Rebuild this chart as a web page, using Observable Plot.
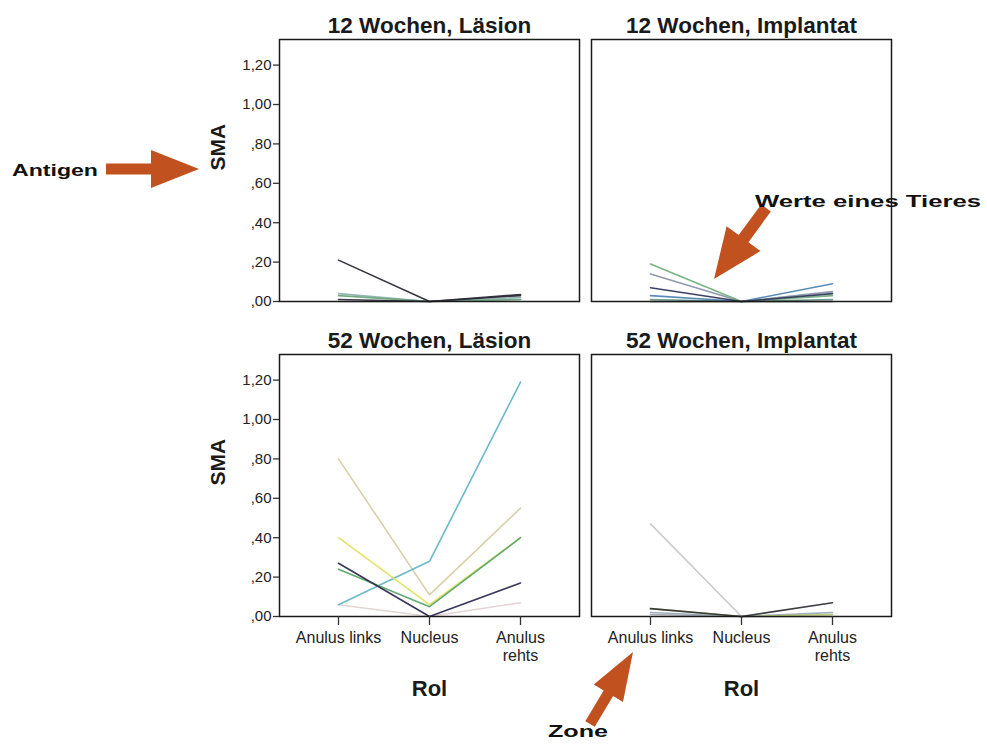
<!DOCTYPE html>
<html>
<head>
<meta charset="utf-8">
<script src="https://cdn.jsdelivr.net/npm/d3@7"></script>
<script src="https://cdn.jsdelivr.net/npm/@observablehq/plot@0.6"></script>
<style>
  html, body { margin: 0; padding: 0; background: #fff; }
  #wrap { position: relative; width: 987px; height: 744px; }
  #wrap svg { position: absolute; left: 0; top: 0; }
</style>
</head>
<body>
<div id="wrap"></div>
<script>
// ---- data ----
const zones = ["Anulus links", "Nucleus", "Anulus rehts"];
const weeks = ["12 Wochen", "52 Wochen"];
const groups = ["Läsion", "Implantat"];
const yTicks = [0, 0.2, 0.4, 0.6, 0.8, 1.0, 1.2];

// one row per animal: SMA at [Anulus links, Nucleus, Anulus rehts]
const w12Laesion = [
  [0.00, 0.00, 0.01],
  [0.04, 0.00, 0.02],
  [0.03, 0.00, 0.01],
  [0.01, 0.00, 0.03],
  [0.21, 0.00, 0.035]
];
const w12Implantat = [
  [0.01, 0.00, 0.01],
  [0.03, 0.00, 0.09],
  [0.14, 0.00, 0.05],
  [0.19, 0.00, 0.03],
  [0.07, 0.00, 0.04],
  [0.00, 0.00, 0.00]
];
const w52Laesion = [
  [0.06, 0.00, 0.07],
  [0.80, 0.11, 0.55],
  [0.06, 0.28, 1.19],
  [0.40, 0.06, 0.40],
  [0.24, 0.05, 0.40],
  [0.27, 0.00, 0.17]
];
const w52Implantat = [
  [0.01, 0.00, 0.00],
  [0.47, 0.00, 0.01],
  [0.02, 0.00, 0.02],
  [0.04, 0.00, 0.01],
  [0.04, 0.00, 0.07]
];

// ---- styles ----
const col12L = ["#a8a8a8", "#8fb3b0", "#6aa67a", "#333344", "#2a2a36"];
const col12I = ["#6a9c92", "#4f86b4", "#8a92aa", "#74b07c", "#30385e", "#333333"];
const col52L = ["#e4d2d2", "#d6cea4", "#62b6c6", "#e2e25e", "#5aa46a", "#2e2c52"];
const col52I = ["#a8a8b0", "#c8c8c8", "#9aaab8", "#b8d070", "#333338"];

const panelDefs = [
  {week: weeks[0], group: groups[0], vals: w12Laesion, cols: col12L},
  {week: weeks[0], group: groups[1], vals: w12Implantat, cols: col12I},
  {week: weeks[1], group: groups[0], vals: w52Laesion, cols: col52L},
  {week: weeks[1], group: groups[1], vals: w52Implantat, cols: col52I}
];

const rows = [];
panelDefs.forEach((p, pi) => {
  p.vals.forEach((animal, ai) => {
    animal.forEach((v, zi) => {
      rows.push({week: p.week, group: p.group, id: pi + "-" + ai, zone: zones[zi], value: v, color: p.cols[ai]});
    });
  });
});

const titles = panelDefs.map(p => ({week: p.week, group: p.group, title: p.week + ", " + p.group}));
const leftPanels = weeks.map(w => ({week: w, group: groups[0], label: "SMA"}));
const bottomPanels = groups.map(g => ({week: weeks[1], group: g, label: "Rol"}));

const yFmt = d => {
  const s = d3.format(".2f")(d);
  return d < 1 ? "," + s.slice(2) : s.replace(".", ",");
};

const chart = Plot.plot({
  width: 987,
  height: 744,
  marginLeft: 278,
  marginRight: 95,
  marginTop: 38,
  marginBottom: 127,
  style: {fontFamily: "'Liberation Sans', Arial, sans-serif", fontSize: "15px", color: "#222", background: "transparent"},
  fx: {domain: groups, paddingInner: 0.0383, paddingOuter: 0, axis: null},
  fy: {domain: weeks, paddingInner: 0.1677, paddingOuter: 0, axis: null},
  x: {domain: zones, type: "point", padding: 0.64},
  y: {domain: [0, 1.33]},
  color: {type: "identity"},
  marks: [
    Plot.line(rows, {x: "zone", y: "value", z: "id", stroke: "color", fx: "group", fy: "week", strokeWidth: 1.6, strokeOpacity: 0.95}),
    Plot.frame({stroke: "#1a1a1a", strokeWidth: 1.5}),
    Plot.axisY({ticks: yTicks, tickFormat: yFmt, tickSize: 6, tickPadding: 2, fontSize: 15, label: null, stroke: "#333", fill: "#222", strokeWidth: 1.3}),
    Plot.axisX({tickSize: 9, tickPadding: 5, fontSize: 16, label: null, lineHeight: 1.1, stroke: "#333", fill: "#222", strokeWidth: 1.3,
      tickFormat: d => d === "Anulus rehts" ? "Anulus\nrehts" : d}),
    Plot.text(titles, {fx: "group", fy: "week", text: "title", frameAnchor: "top", lineAnchor: "bottom", dy: -7, fontSize: 22.5, fontWeight: "bold", fill: "#1a1a1a"}),
    Plot.text(leftPanels, {fx: "group", fy: "week", text: "label", frameAnchor: "left", lineAnchor: "middle", dx: -61, rotate: -90, fontSize: 21, fontWeight: "bold", fill: "#1a1a1a"}),
    Plot.text(bottomPanels, {fx: "group", fy: "week", text: "label", frameAnchor: "bottom", lineAnchor: "middle", dy: 72, fontSize: 22, fontWeight: "bold", fill: "#1a1a1a"})
  ]
});

const wrap = document.getElementById("wrap");
wrap.appendChild(chart);

// ---- annotations (arrows + notes) drawn as an overlay ----
const arrowColor = "#c1511f";
const notes = [
  {text: "Antigen", x: 12, y: 176, len: 86, size: 17, tail: [106, 169], tip: [199, 169], shaft: 11, headW: 38, headL: 48},
  {text: "Werte eines Tieres", x: 755, y: 207, len: 226, size: 17, tail: [766, 208], tip: [714, 279], shaft: 12, headW: 42, headL: 50},
  {text: "Zone", x: 548, y: 737, len: 60, size: 16, tail: [590, 724], tip: [633, 652], shaft: 11, headW: 34, headL: 48}
];

function arrowPoints(n) {
  const [x0, y0] = n.tail, [x1, y1] = n.tip;
  const L = Math.hypot(x1 - x0, y1 - y0);
  const ux = (x1 - x0) / L, uy = (y1 - y0) / L;
  const nx = -uy, ny = ux;
  const bx = x1 - ux * n.headL, by = y1 - uy * n.headL;
  const s = n.shaft / 2, h = n.headW / 2;
  return [
    [x0 + nx * s, y0 + ny * s],
    [bx + nx * s, by + ny * s],
    [bx + nx * h, by + ny * h],
    [x1, y1],
    [bx - nx * h, by - ny * h],
    [bx - nx * s, by - ny * s],
    [x0 - nx * s, y0 - ny * s]
  ];
}

const overlay = d3.create("svg")
  .attr("width", 987).attr("height", 744)
  .style("pointer-events", "none");

overlay.selectAll("polygon").data(notes).join("polygon")
  .attr("points", d => arrowPoints(d).map(p => p.join(",")).join(" "))
  .attr("fill", arrowColor);

overlay.selectAll("text").data(notes).join("text")
  .attr("x", d => d.x).attr("y", d => d.y)
  .attr("textLength", d => d.len).attr("lengthAdjust", "spacingAndGlyphs")
  .attr("font-family", "'Liberation Sans', Arial, sans-serif")
  .attr("font-weight", "bold").attr("font-size", d => d.size).attr("fill", "#111")
  .text(d => d.text);

wrap.appendChild(overlay.node());
</script>
</body>
</html>
